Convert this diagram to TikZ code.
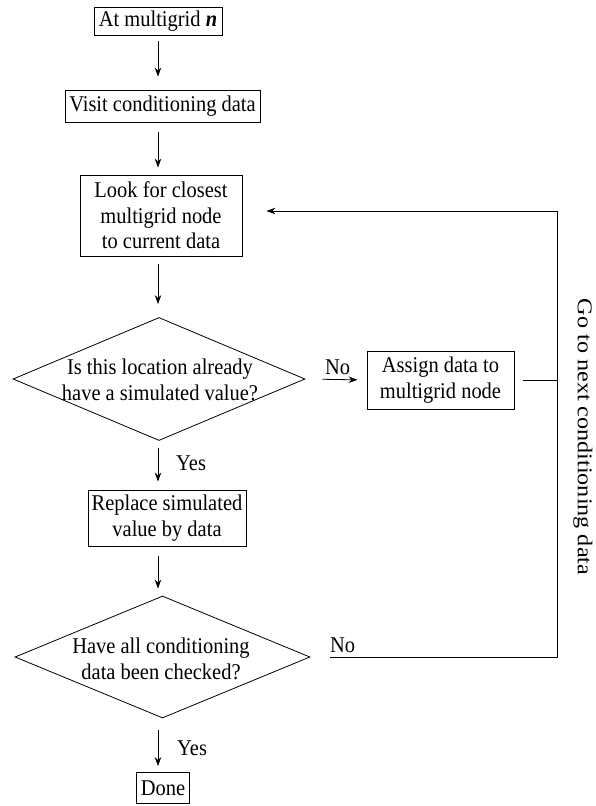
\documentclass[tikz,border=0pt]{standalone}
\usepackage{fontspec}
% slightly condensed serif for the flowchart text
\setmainfont{Liberation Serif}[FakeStretch=0.91]
% slightly widened serif for the vertical loop label
\newfontfamily\loopfont{Liberation Serif}[FakeStretch=1.15]
\usetikzlibrary{shapes.geometric,arrows.meta}

\newcommand{\txt}{\fontsize{22.5}{25.5}\selectfont}

\tikzset{
  box/.style={draw, line width=0.8pt, align=center, inner sep=0pt, font=\txt},
  decision/.style={draw, line width=0.8pt, diamond, aspect=2.4, inner sep=0pt,
                   minimum width=292pt, minimum height=123pt},
  dtext/.style={align=center, inner sep=0pt, font=\txt},
  flow/.style={line width=0.8pt},
  arr/.style={flow, -{Stealth[length=9pt,width=6.5pt]}},
  lbl/.style={inner sep=0pt, anchor=base west, font=\txt}
}

\begin{document}
\begin{tikzpicture}[x=1pt, y=-1pt]
  \useasboundingbox (0,0) rectangle (595,806);
  \coordinate (ax) at (158,0);

  % process steps down the main column
  \node[box, minimum width=128pt, minimum height=28pt] (start) at (158,21) {At multigrid \textbf{\textit{n}}};
  \node[box, minimum width=195pt, minimum height=32pt] (visit) at (162.5,106) {Visit conditioning data};
  \node[box, minimum width=162pt, minimum height=81pt] (look) at (161,215.5) {Look for closest\\multigrid node\\to current data};

  \node[decision] (loc) at (159,379) {};
  \node[dtext] (loctext) at (160,380) {Is this location already\\have a simulated value?};

  \node[box, minimum width=147pt, minimum height=58pt] (assign) at (440.5,380) {Assign data to\\multigrid node};
  \node[box, minimum width=158pt, minimum height=56pt] (replace) at (167,518) {Replace simulated\\value by data};

  \node[decision, minimum width=295pt, minimum height=122pt] (all) at (162.5,657) {};
  \node[dtext] (alltext) at (161,659) {Have all conditioning\\data been checked?};

  \node[box, minimum width=53pt, minimum height=31pt] (done) at (163,788) {Done};

  % corners of the return loop
  \coordinate (rt) at (557,211);
  \coordinate (rb) at (557,657);

  % vertical arrows
  \draw[arr, shorten <=6pt, shorten >=13pt] (ax |- start.south) -- (ax |- visit.north);
  \draw[arr, shorten <=10pt, shorten >=7pt] (ax |- visit.south) -- (ax |- look.north);
  \draw[arr, shorten <=8pt, shorten >=13pt] (ax |- look.south) -- (ax |- loc.north);
  \draw[arr, shorten <=7pt, shorten >=8pt] (ax |- loc.south) -- (ax |- replace.north);
  \draw[arr, shorten <=10pt, shorten >=7pt] (ax |- replace.south) -- (ax |- all.north);
  \draw[arr, shorten <=12pt, shorten >=6pt] (ax |- all.south) -- (ax |- done.north);

  % branch labels
  \node[lbl] (yes1) at (176,470) {Yes};
  \node[lbl] (yes2) at (177,755) {Yes};
  \node[lbl] (no1) at (325,374) {No};
  \node[lbl] (no2) at (330,652) {No};

  % the No branch to the assignment step
  \draw[arr, shorten <=17pt, shorten >=9pt] (loc.east) -- (assign.west);

  % return loop to the next conditioning datum
  \draw[flow] ([xshift=9pt]assign.east) -- (assign.east -| rt);
  \draw[arr, shorten >=24pt] (no2.south west |- rb) -- (rb) -- (rt) -- (rt -| look.east);
  \node[rotate=-90, inner sep=0pt, font=\loopfont\fontsize{21}{25}\selectfont] (gonext) at (583,437) {Go to next conditioning data};
\end{tikzpicture}
\end{document}
